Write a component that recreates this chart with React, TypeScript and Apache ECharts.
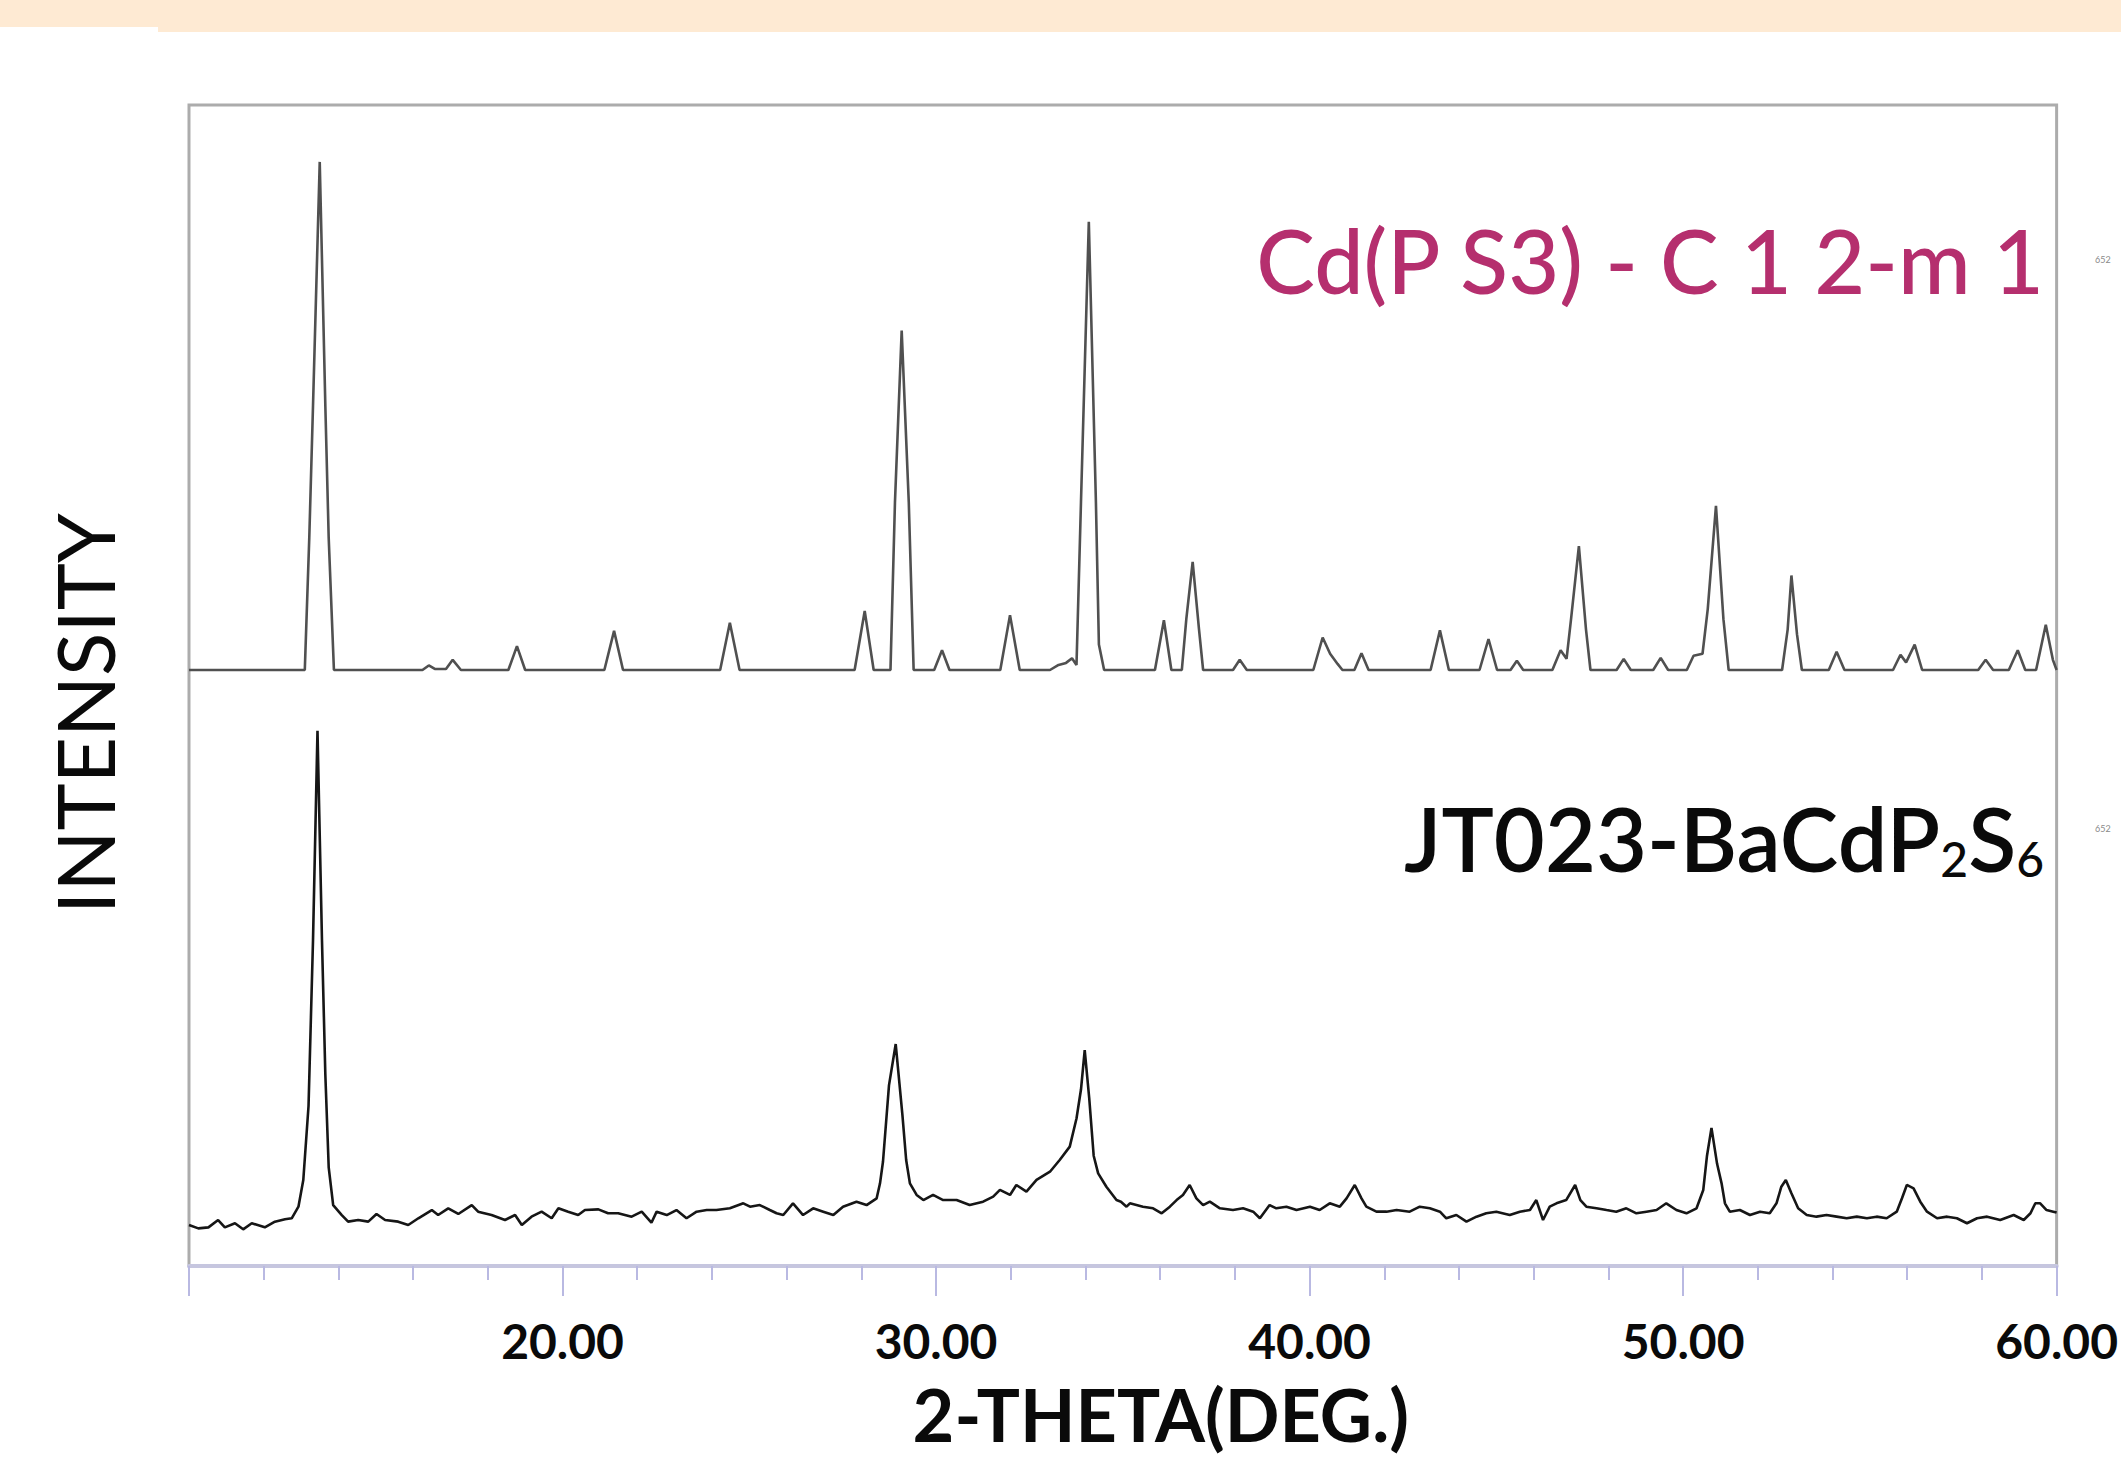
import React, { useEffect, useRef } from "react";
import * as echarts from "echarts";

// Reference (calculated) pattern: Cd(PS3), 2-theta (deg) and relative intensity
const refTheta = [
  10.0, 13.1, 13.22, 13.32, 13.5, 13.65, 13.74, 13.88,
  16.25, 16.42, 16.58, 16.88, 17.06, 17.28,
  18.55, 18.78, 19.0,
  21.12, 21.38, 21.62,
  24.22, 24.48, 24.74,
  27.82, 28.09, 28.33,
  28.78, 28.9, 29.08, 29.27, 29.4,
  29.95, 30.16, 30.36,
  31.72, 31.98, 32.24,
  33.05, 33.28, 33.48, 33.64, 33.76, 33.88, 34.09, 34.28, 34.36, 34.5,
  35.86, 36.1, 36.3,
  36.58, 36.7, 36.87, 37.04, 37.15,
  37.95, 38.13, 38.32,
  40.1, 40.35, 40.55, 40.75, 40.88,
  41.2, 41.39, 41.58,
  43.24, 43.49, 43.73,
  44.55, 44.79, 45.02,
  45.38, 45.55, 45.72,
  46.5, 46.72, 46.88, 47.0, 47.21, 47.4, 47.52,
  48.22, 48.41, 48.6,
  49.2, 49.4, 49.6,
  50.1, 50.28, 50.52, 50.66, 50.88, 51.08, 51.22,
  52.65, 52.8, 52.9, 53.05, 53.18,
  53.9, 54.11, 54.32,
  55.62, 55.82, 55.97, 56.2, 56.4,
  57.9, 58.1, 58.3,
  58.72, 58.96, 59.16,
  59.45, 59.71, 59.9, 60.0,
];
const refIntensity = [
  0, 0, 26, 52, 100, 52, 26, 0,
  0, 0.9, 0.2, 0.2, 2.0, 0,
  0, 4.7, 0,
  0, 7.7, 0,
  0, 9.3, 0,
  0, 11.6, 0,
  0, 33, 66.8, 33, 0,
  0, 3.9, 0,
  0, 10.8, 0,
  0, 1.0, 1.4, 2.3, 1.0, 33, 88.2, 33, 5, 0,
  0, 9.8, 0,
  0, 10, 21.3, 8, 0,
  0, 2.0, 0,
  0, 6.4, 3.2, 1.2, 0,
  0, 3.3, 0,
  0, 7.8, 0,
  0, 6.1, 0,
  0, 1.8, 0,
  0, 3.9, 2.2, 10, 24.4, 8, 0,
  0, 2.2, 0,
  0, 2.4, 0,
  0, 2.8, 3.2, 12, 32.3, 10, 0,
  0, 8, 18.6, 7, 0,
  0, 3.6, 0,
  0, 3.0, 1.5, 5.0, 0,
  0, 2.0, 0,
  0, 3.9, 0,
  0, 8.9, 2, 0,
];

// Measured pattern: JT023-BaCdP2S6, 2-theta (deg) and counts
const sampleTheta = [
  10.0, 10.25, 10.52, 10.78, 10.96, 11.23, 11.45, 11.68, 12.03, 12.3, 12.57, 12.75,
  12.93, 13.06, 13.2, 13.32, 13.44, 13.56, 13.65, 13.74, 13.86,
  14.09, 14.26, 14.53, 14.8, 15.02, 15.25, 15.6, 15.87, 16.14, 16.5, 16.67, 16.94,
  17.21, 17.57, 17.74, 18.1, 18.46, 18.73, 18.91, 19.17, 19.44, 19.71, 19.89,
  20.15, 20.42, 20.6, 20.96, 21.22, 21.49, 21.85, 22.12, 22.38, 22.52, 22.79,
  23.05, 23.32, 23.59, 23.86, 24.12, 24.48, 24.84, 25.02, 25.28, 25.55, 25.73,
  25.91, 26.17, 26.44, 26.71, 26.98, 27.25, 27.51, 27.87, 28.14, 28.41,
  28.5, 28.58, 28.74, 28.92, 29.1, 29.2, 29.3, 29.48, 29.66, 29.92, 30.19,
  30.55, 30.9, 31.26, 31.53, 31.71, 31.98, 32.15, 32.42, 32.69, 33.05, 33.31,
  33.58, 33.76, 33.88, 33.98, 34.1, 34.22, 34.34, 34.56, 34.83, 34.95, 35.1,
  35.19, 35.54, 35.81, 36.04, 36.26, 36.44, 36.61, 36.79, 36.97, 37.15, 37.33,
  37.6, 37.95, 38.22, 38.49, 38.67, 38.93, 39.11, 39.38, 39.65, 40.01, 40.27,
  40.54, 40.81, 40.99, 41.21, 41.39, 41.52, 41.79, 42.06, 42.33, 42.68, 42.95,
  43.22, 43.49, 43.66, 43.93, 44.2, 44.47, 44.73, 45.0, 45.36, 45.63, 45.9,
  46.07, 46.25, 46.43, 46.61, 46.87, 47.11, 47.25, 47.41, 47.68, 47.95, 48.21,
  48.48, 48.75, 49.02, 49.29, 49.55, 49.82, 50.09, 50.36, 50.54, 50.64, 50.76,
  50.91, 51.03, 51.12, 51.25, 51.52, 51.79, 52.06, 52.32, 52.5, 52.63, 52.75,
  52.9, 53.08, 53.31, 53.57, 53.84, 54.11, 54.38, 54.65, 54.92, 55.18, 55.45,
  55.72, 55.86, 55.99, 56.17, 56.35, 56.53, 56.8, 57.07, 57.33, 57.6, 57.87,
  58.14, 58.49, 58.85, 59.12, 59.3, 59.43, 59.56, 59.73, 59.91, 60.0,
];
const sampleCounts = [
  35.3, 32.4, 33.3, 39.6, 33.3, 36.8, 31.6, 36.8, 33.3, 38.2, 40.2, 41.1,
  51.1, 74.1, 137.8, 280.6, 461, 280.6, 165, 85, 52.5,
  43.9, 38.2, 39.6, 38.2, 44.8, 39.6, 38.2, 35.3, 41.1, 48.2, 43.9, 49.7,
  44.8, 52.5, 46.8, 43.9, 39.6, 43.9, 35.3, 42.5, 46.8, 41.1, 49.7,
  46.8, 43.9, 48.2, 48.8, 45.4, 45.4, 42.5, 46.8, 37.3, 46.8, 43.9,
  48.2, 41.1, 46.8, 48.2, 48.2, 49.7, 54.0, 51.1, 52.5, 48.2, 45.4,
  43.9, 54.0, 43.9, 49.7, 46.8, 43.9, 51.1, 55.4, 52.5, 58.3,
  71.2, 90, 155.6, 191.2, 130, 91.3, 71.2, 61.2, 56.8, 61.2, 56.8,
  56.8, 52.5, 55.4, 59.7, 65.5, 61.2, 69.8, 64.0, 74.1, 81.2, 91.3,
  102.8, 127, 152, 186, 144.9, 95, 79.8, 68.3, 56.8, 55.4, 51.1,
  54.0, 51.1, 49.7, 45.4, 51.1, 56.8, 61.2, 69.8, 58.3, 52.5, 55.4,
  49.7, 48.2, 49.7, 46.8, 41.1, 52.5, 49.7, 51.1, 48.2, 51.1, 48.2,
  54.0, 51.1, 58.3, 69.8, 58.3, 51.1, 46.8, 46.8, 48.2, 46.8, 51.1,
  49.7, 46.8, 41.1, 43.9, 38.2, 42.5, 45.4, 46.8, 43.9, 46.8, 48.2,
  56.8, 39.6, 51.1, 54.0, 56.8, 69.8, 56.8, 51.1, 49.7, 48.2, 46.8,
  49.7, 45.4, 46.8, 48.2, 54.0, 48.2, 45.4, 49.7, 65.5, 95, 119,
  88, 71.2, 54.0, 46.8, 48.2, 43.9, 46.8, 45.4, 54.0, 68.3, 74.1,
  62.6, 49.7, 43.9, 42.5, 43.9, 42.5, 41.1, 42.5, 41.1, 42.5, 41.1,
  46.8, 58.3, 69.8, 66.9, 55.4, 46.8, 41.1, 42.5, 41.1, 36.8, 41.1,
  42.5, 39.6, 43.9, 39.6, 45.4, 54.0, 54.0, 48.2, 46.8, 46.0,
];

const xMin = 10;
const xMax = 60;
const xInterval = 10;
const xTitle = "2-THETA(DEG.)";
const yTitle = "INTENSITY";
const refLabel = "Cd(P S3) - C 1 2-m 1";
const sampleLabelMain = "JT023-BaCdP";
const sampleLabelSub1 = "2";
const sampleLabelMid = "S";
const sampleLabelSub2 = "6";
const sideNote = "652";

export default function App() {
  const ref = useRef<HTMLDivElement>(null);

  useEffect(() => {
    if (!ref.current) return;
    const chart = echarts.init(ref.current, undefined, { renderer: "svg" });
    const refData = refTheta.map((t, i) => [t, refIntensity[i]]);
    const sampleData = sampleTheta.map((t, i) => [t, sampleCounts[i]]);
    const font = "Lato, 'Noto Sans', sans-serif";

    chart.setOption({
      animation: false,
      backgroundColor: "#ffffff",
      grid: {
        left: 189,
        right: 64,
        top: 105,
        bottom: 194,
        show: true,
        borderColor: "#acacac",
        borderWidth: 3,
        backgroundColor: "transparent",
      },
      xAxis: {
        type: "value",
        min: xMin,
        max: xMax,
        interval: xInterval,
        name: xTitle,
        nameLocation: "middle",
        nameGap: 112,
        nameTextStyle: {
          fontFamily: font,
          fontSize: 72,
          fontWeight: "bold",
          color: "#0a0a0a",
          lineHeight: 72,
          padding: [0, 0, 0, 76],
        },
        axisLine: { show: true, lineStyle: { color: "#c6c6df", width: 4 } },
        axisTick: { show: true, length: 30, lineStyle: { color: "#b9b9e2", width: 2 } },
        minorTick: { show: true, splitNumber: 5, length: 14, lineStyle: { color: "#b9b9e2", width: 2 } },
        splitLine: { show: false },
        axisLabel: {
          margin: 50,
          fontFamily: font,
          fontSize: 48,
          fontWeight: "bold",
          color: "#0a0a0a",
          lineHeight: 48,
          formatter: (v: number) => (v === xMin ? "" : v.toFixed(2)),
        },
      },
      yAxis: [
        {
          type: "value",
          min: 0,
          max: 1000,
          name: yTitle,
          nameLocation: "middle",
          nameGap: 65,
          nameTextStyle: {
            fontFamily: font,
            fontSize: 80,
            fontWeight: "normal",
            color: "#0a0a0a",
            padding: [0, 56, 0, 0],
          },
          axisLine: { show: false },
          axisTick: { show: false },
          axisLabel: { show: false },
          splitLine: { show: false },
        },
        {
          type: "value",
          min: -117.3,
          max: 111.2,
          show: false,
          splitLine: { show: false },
        },
      ],
      series: [
        {
          name: "Cd(PS3) C 1 2/m 1 (calculated)",
          type: "line",
          xAxisIndex: 0,
          yAxisIndex: 1,
          data: refData,
          showSymbol: false,
          symbol: "none",
          lineStyle: { color: "#505050", width: 2.6 },
          z: 3,
        },
        {
          name: "JT023-BaCdP2S6",
          type: "line",
          xAxisIndex: 0,
          yAxisIndex: 0,
          data: sampleData,
          showSymbol: false,
          symbol: "none",
          lineStyle: { color: "#161616", width: 2.6 },
          z: 3,
        },
      ],
      graphic: [
        {
          type: "rect",
          shape: { x: 0, y: 0, width: 158, height: 27 },
          style: { fill: "#feead3" },
          z: 0,
        },
        {
          type: "rect",
          shape: { x: 158, y: 0, width: 1963, height: 32 },
          style: { fill: "#feead3" },
          z: 0,
        },
        {
          type: "text",
          x: 2044,
          y: 260,
          z: 10,
          style: {
            text: refLabel,
            fill: "#b52f6e",
            fontFamily: font,
            fontSize: 88,
            fontWeight: 500,
            align: "right",
            textAlign: "right",
            verticalAlign: "middle",
            textVerticalAlign: "middle",
          },
        },
        {
          type: "text",
          x: 2044,
          y: 832,
          z: 10,
          style: {
            text: `{m|${sampleLabelMain}}{s|${sampleLabelSub1}}{m|${sampleLabelMid}}{s|${sampleLabelSub2}}`,
            align: "right",
            textAlign: "right",
            verticalAlign: "middle",
            textVerticalAlign: "middle",
            rich: {
              m: {
                fontFamily: font,
                fontSize: 88,
                fontWeight: 600,
                fill: "#0a0a0a",
                color: "#0a0a0a",
                lineHeight: 100,
                verticalAlign: "bottom",
              },
              s: {
                fontFamily: font,
                fontSize: 48,
                fontWeight: 500,
                fill: "#0a0a0a",
                color: "#0a0a0a",
                lineHeight: 52,
                verticalAlign: "bottom",
              },
            },
          },
        },
        {
          type: "text",
          x: 2095,
          y: 255,
          z: 10,
          style: { text: sideNote, fill: "#8a8a8a", fontSize: 9, fontFamily: font },
        },
        {
          type: "text",
          x: 2095,
          y: 824,
          z: 10,
          style: { text: sideNote, fill: "#8a8a8a", fontSize: 9, fontFamily: font },
        },
      ],
    });

    return () => chart.dispose();
  }, []);

  return (
    <div
      ref={ref}
      style={{ position: "absolute", left: 0, top: 0, width: 2121, height: 1460, background: "#ffffff" }}
    />
  );
}
